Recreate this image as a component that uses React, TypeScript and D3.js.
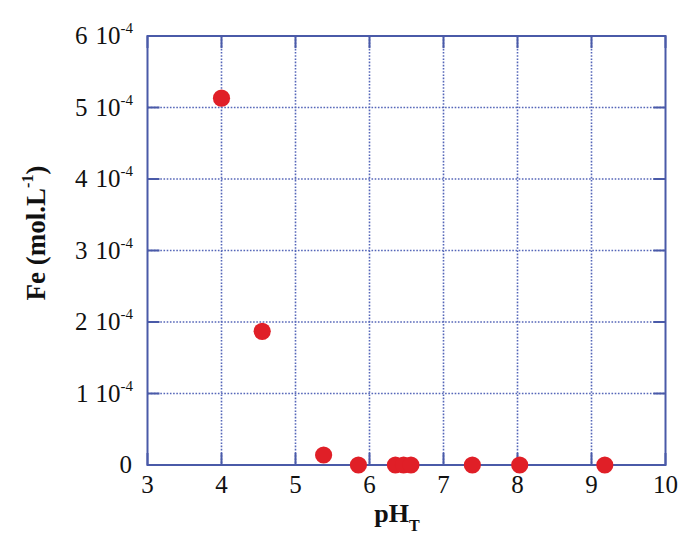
import React from "react";
import * as d3 from "d3";

const phValues = [4.0, 4.55, 5.38, 5.85, 6.35, 6.46, 6.56, 7.39, 8.03, 9.18];
const feValues = [5.13e-4, 1.87e-4, 0.14e-4, 0, 0, 0, 0, 0, 0, 0];
const xTicks = [3, 4, 5, 6, 7, 8, 9, 10];
const yTicks = [0, 1e-4, 2e-4, 3e-4, 4e-4, 5e-4, 6e-4];
const yTickMantissa = ["0", "1", "2", "3", "4", "5", "6"];

const W = 680;
const H = 536;
const left = 147.5;
const right = 665.5;
const top = 36;
const bottom = 465;
const axisColor = "#4a5aa8";
const gridColor = "#5566b8";
const dotColor = "#e01f27";
const font = '"Liberation Serif", Tinos, "Times New Roman", Times, serif';

export default function App() {
  const x = d3.scaleLinear().domain([3, 10]).range([left, right]);
  const y = d3.scaleLinear().domain([0, 6e-4]).range([bottom, top]);
  const tickLen = 12;
  const ts = { fontFamily: font };

  return (
    <svg
      width={W}
      height={H}
      style={{ position: "absolute", left: 0, top: 0, background: "#fff", fontFamily: font }}
    >
      {xTicks.slice(1, -1).map((t) => (
        <line
          key={"gx" + t}
          x1={x(t)}
          x2={x(t)}
          y1={top}
          y2={bottom}
          stroke={gridColor}
          strokeWidth={1.6}
          strokeDasharray="1.6,1.6"
        />
      ))}
      {yTicks.slice(1, -1).map((t) => (
        <line
          key={"gy" + t}
          x1={left}
          x2={right}
          y1={y(t)}
          y2={y(t)}
          stroke={gridColor}
          strokeWidth={1.6}
          strokeDasharray="1.6,1.6"
        />
      ))}
      {xTicks.map((t) => (
        <g key={"tx" + t}>
          <line x1={x(t)} x2={x(t)} y1={bottom} y2={bottom - tickLen} stroke={axisColor} strokeWidth={2} />
          <line x1={x(t)} x2={x(t)} y1={top} y2={top + tickLen} stroke={axisColor} strokeWidth={2} />
          <text x={x(t)} y={bottom + 28} textAnchor="middle" fontSize={25} fill="#111" style={ts}>
            {t}
          </text>
        </g>
      ))}
      {yTicks.map((t, i) => (
        <g key={"ty" + t}>
          <line x1={left} x2={left + tickLen} y1={y(t)} y2={y(t)} stroke={axisColor} strokeWidth={2} />
          <line x1={right} x2={right - tickLen} y1={y(t)} y2={y(t)} stroke={axisColor} strokeWidth={2} />
          {t === 0 ? (
            <text x={132} y={y(t) + 8} textAnchor="end" fontSize={25} fill="#111" style={ts}>
              0
            </text>
          ) : (
            <text x={133} y={y(t) + 8} textAnchor="end" fontSize={25} fill="#111" style={ts}>
              {yTickMantissa[i]}
              <tspan dx={8}>10</tspan>
              <tspan fontSize={15} dy={-11}>
                -4
              </tspan>
            </text>
          )}
        </g>
      ))}
      <rect
        x={left}
        y={top}
        width={right - left}
        height={bottom - top}
        fill="none"
        stroke={axisColor}
        strokeWidth={2}
      />
      {phValues.map((p, i) => (
        <circle key={"p" + i} cx={x(p)} cy={y(feValues[i])} r={8.6} fill={dotColor} />
      ))}
      <text x={397} y={522} textAnchor="middle" fontSize={26} fontWeight="bold" fill="#111" style={ts}>
        pH
        <tspan fontSize={16} dy={9}>
          T
        </tspan>
      </text>
      <text
        transform={`translate(45, 233) rotate(-90)`}
        textAnchor="middle"
        fontSize={27}
        fontWeight="bold"
        fill="#111"
        style={ts}
      >
        Fe (mol.L
        <tspan fontSize={16} dy={-12}>
          -1
        </tspan>
        <tspan dy={12}>)</tspan>
      </text>
    </svg>
  );
}
